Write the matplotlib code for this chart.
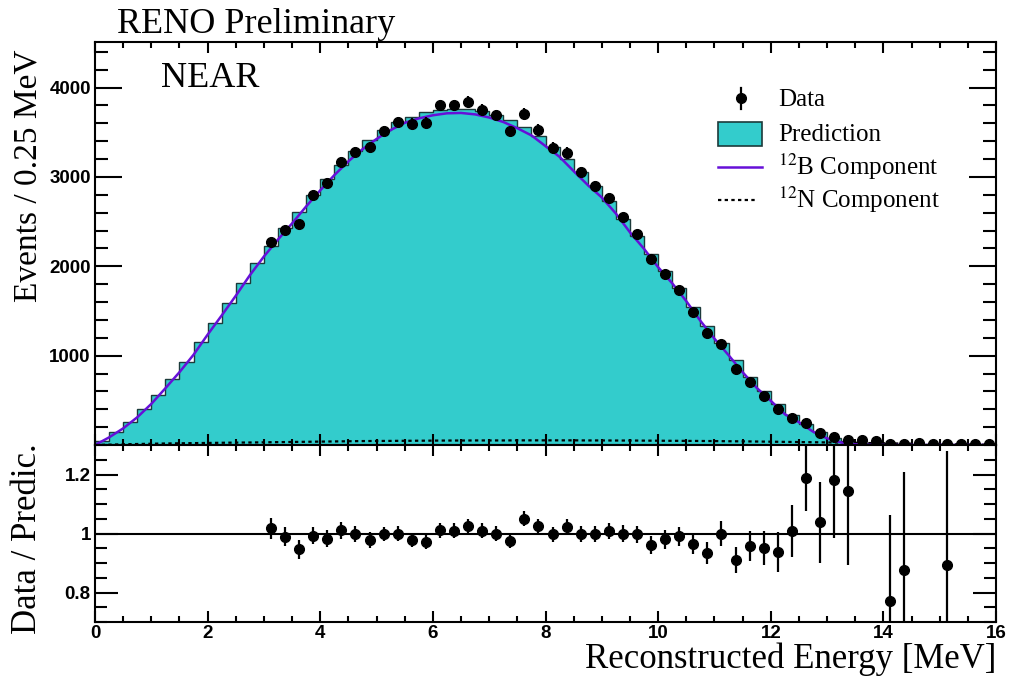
import numpy as np
import matplotlib
matplotlib.use("Agg")
import matplotlib.pyplot as plt
from matplotlib.patches import Rectangle
from matplotlib.ticker import MultipleLocator

plt.rcParams['mathtext.fontset'] = 'stix'

# ---------------- data ----------------
bin_width = 0.25
n_bins = 64
first_data_bin = 12

# Prediction histogram (events per 0.25 MeV bin), bins 0..63
prediction = [
    42, 141, 255, 398, 561, 743, 930, 1152, 1364, 1586,
    1818, 2039, 2231, 2428, 2610, 2797, 2974, 3139, 3286, 3413,
    3521, 3612, 3676, 3722, 3751, 3765, 3759, 3734, 3692, 3632,
    3557, 3457, 3337, 3201, 3051, 2895, 2728, 2534, 2339, 2141,
    1947, 1758, 1548, 1336, 1140, 950, 766, 604, 454, 332,
    230, 140, 76, 41, 26, 19, 16, 14, 11, 9,
    7, 5, 3, 1]

# 12B component curve, sampled at bin edges 0, 0.25, ..., 16 MeV
b12_curve = [
    0, 85, 186, 310, 460, 635, 815, 1010, 1235, 1450,
    1670, 1900, 2110, 2300, 2480, 2670, 2850, 3020, 3175, 3310,
    3425, 3525, 3605, 3655, 3690, 3712, 3716, 3700, 3665, 3615,
    3545, 3465, 3345, 3225, 3065, 2910, 2770, 2590, 2380, 2195,
    1990, 1810, 1610, 1390, 1190, 1006, 815, 640, 495, 345,
    255, 150, 74, 28, 8, 2, 0, 0, 0, 0,
    0, 0, 0, 0, 0]

# 12N component curve, sampled at bin edges 0, 0.25, ..., 16 MeV
n12_curve = [
    0, 4, 8, 11, 14, 17, 19, 21, 23, 25,
    27, 28, 30, 32, 34, 36, 38, 40, 42, 44,
    45, 46, 47, 48, 49, 50, 50, 51, 51, 51,
    52, 52, 52, 52, 52, 51, 51, 50, 50, 49,
    48, 47, 46, 45, 44, 42, 41, 39, 37, 35,
    33, 31, 29, 27, 25, 22, 20, 17, 15, 12,
    10, 8, 6, 4, 2]

# Data counts, bins 12..63
data_counts = [
    2273, 2404, 2471, 2795, 2929, 3172, 3277, 3334, 3511, 3614,
    3596, 3608, 3802, 3802, 3839, 3754, 3690, 3515, 3709, 3530,
    3329, 3273, 3056, 2896, 2765, 2546, 2359, 2079, 1919, 1733,
    1490, 1248, 1125, 846, 700, 552, 398, 297, 241, 130,
    92, 55, 55, 50, 12, 12, 20, 15, 6, 12,
    8, 10]
data_errors = [
    48, 49, 50, 53, 54, 56, 57, 58, 59, 60,
    60, 60, 62, 62, 62, 61, 61, 59, 61, 59,
    58, 57, 55, 54, 53, 50, 49, 46, 44, 42,
    39, 35, 34, 29, 26, 23, 20, 17, 16, 11,
    10, 7, 7, 7, 3, 3, 4, 4, 2, 3,
    3, 3]

# Data / Prediction ratio (bins inside the displayed range)
ratio_bins = list(range(12, 54)) + [56, 57, 60]
ratio_values = [
    1.017, 0.989, 0.946, 0.993, 0.983, 1.011, 0.998, 0.978, 0.998, 1.000,
    0.978, 0.971, 1.011, 1.009, 1.026, 1.009, 1.000, 0.975, 1.050, 1.024,
    0.997, 1.022, 0.997, 0.997, 1.009, 1.000, 0.997, 0.962, 0.980, 0.990,
    0.966, 0.935, 1.000, 0.910, 0.958, 0.950, 0.938, 1.008, 1.187, 1.038,
    1.183, 1.144, 0.770, 0.877, 0.894]
ratio_errors = [
    0.035, 0.033, 0.033, 0.030, 0.030, 0.028, 0.026, 0.026, 0.025, 0.025,
    0.025, 0.025, 0.025, 0.025, 0.024, 0.025, 0.025, 0.025, 0.026, 0.026,
    0.026, 0.026, 0.027, 0.027, 0.028, 0.029, 0.030, 0.031, 0.033, 0.033,
    0.034, 0.037, 0.042, 0.043, 0.052, 0.057, 0.067, 0.087, 0.110, 0.137,
    0.197, 0.250, 0.294, 0.332, 0.387]

# ---------------- styling ----------------
CYAN = '#33cccc'
PURPLE = '#6610d8'
SERIF = ['Liberation Serif', 'DejaVu Serif']
SANS = ['Liberation Sans', 'DejaVu Sans']

W, H = 1013, 686
fig = plt.figure(figsize=(W / 100, H / 100), dpi=100)


def px_rect(l, t, r, b):
    return [l / W, 1 - b / H, (r - l) / W, (b - t) / H]


def fpt(x, y):
    return (x / W, 1 - y / H)


ax = fig.add_axes(px_rect(95, 42, 996, 445))
axr = fig.add_axes(px_rect(95, 445, 996, 622), sharex=ax)

edges = np.arange(n_bins + 1) * bin_width
centers = edges[:-1] + bin_width / 2

# ---- upper panel ----
ax.stairs(prediction, edges, fill=True, facecolor=CYAN, edgecolor='none', zorder=1)
ax.stairs(prediction, edges, color='#1c3a3a', lw=1.0, zorder=1.2)
ax.plot(edges, n12_curve, color='black', lw=1.6, ls=(0, (1.5, 1.5)), zorder=2)
ax.plot(edges, b12_curve, color=PURPLE, lw=1.8, zorder=2.2)
ax.errorbar(centers[first_data_bin:], data_counts, yerr=data_errors, fmt='o',
            color='black', ms=7, elinewidth=1.6, capsize=0, zorder=3)

ax.set_xlim(0, 16)
ax.set_ylim(0, 4510)
ax.set_yticks([1000, 2000, 3000, 4000])
ax.yaxis.set_minor_locator(MultipleLocator(200))
ax.xaxis.set_major_locator(MultipleLocator(2))
ax.xaxis.set_minor_locator(MultipleLocator(0.5))
ax.tick_params(which='both', direction='in', top=True, right=True,
               labelbottom=False, width=1.5)
ax.tick_params(axis='y', which='major', length=19.5, pad=3)
ax.tick_params(axis='y', which='minor', length=9.5)
ax.tick_params(axis='x', which='major', length=8)
ax.tick_params(axis='x', which='minor', length=4.5)

# ---- ratio panel ----
axr.axhline(1.0, color='black', lw=1.5, zorder=1)
rx = [centers[b] for b in ratio_bins]
axr.errorbar(rx, ratio_values, yerr=ratio_errors, fmt='o', color='black',
             ms=7, elinewidth=1.6, capsize=0, zorder=3)
axr.set_ylim(0.7, 1.3)
axr.set_yticks([0.8, 1.0, 1.2], ['0.8', '1', '1.2'])
axr.yaxis.set_minor_locator(MultipleLocator(0.05))
axr.set_xticks(np.arange(0, 17, 2), [str(v) for v in range(0, 17, 2)])
axr.xaxis.set_minor_locator(MultipleLocator(0.5))
axr.tick_params(which='both', direction='in', top=True, right=True, width=1.5)
axr.tick_params(axis='y', which='major', length=16.5, pad=3)
axr.tick_params(axis='y', which='minor', length=8.5)
axr.tick_params(axis='x', which='major', length=8, pad=2.5)
axr.tick_params(axis='x', which='minor', length=4.5)

for a in (ax, axr):
    for s in a.spines.values():
        s.set_linewidth(1.5)
    for lab in a.get_xticklabels() + a.get_yticklabels():
        lab.set_fontfamily(SANS)
        lab.set_fontweight('bold')
        lab.set_fontsize(13.5)

# ---- texts ----
fig.text(*fpt(117, 33), 'RENO Preliminary', family=SERIF, size=26,
         ha='left', va='baseline')
fig.text(*fpt(161, 87), 'NEAR', family=SERIF, size=26, ha='left', va='baseline')
fig.text(*fpt(28, 50), 'Events / 0.25 MeV', family=SERIF, size=24,
         rotation=90, ha='center', va='top')
fig.text(*fpt(27, 443), 'Data / Predic.', family=SERIF, size=25,
         rotation=90, ha='center', va='top')
fig.text(*fpt(996, 668), 'Reconstructed Energy [MeV]', family=SERIF, size=25,
         ha='right', va='baseline')

# ---- legend (manual) ----
tf = fig.transFigure
mx, my = fpt(740.7, 98.3)
fig.add_artist(plt.Line2D([mx, mx], [fpt(0, 88)[1], fpt(0, 109)[1]],
                          color='black', lw=1.6, transform=tf))
fig.add_artist(plt.Line2D([mx], [my], marker='o', ms=7, color='black',
                          transform=tf))
r0 = fpt(718, 146)
r1 = fpt(762, 121.7)
fig.add_artist(Rectangle(r0, r1[0] - r0[0], r1[1] - r0[1], facecolor=CYAN,
                         edgecolor='#1c3a3a', lw=1.2, transform=tf))
fig.add_artist(plt.Line2D([fpt(718, 0)[0], fpt(762, 0)[0]],
                          [fpt(0, 166.7)[1]] * 2, color=PURPLE, lw=1.8,
                          transform=tf))
fig.add_artist(plt.Line2D([fpt(718, 0)[0], fpt(758, 0)[0]],
                          [fpt(0, 200)[1]] * 2, color='black', lw=1.6,
                          ls=(0, (1.5, 1.5)), transform=tf))
tx = 778
fig.text(*fpt(tx, 100), 'Data', family=SERIF, size=18, ha='left', va='center')
fig.text(*fpt(tx, 135), 'Prediction', family=SERIF, size=18, ha='left', va='center')
fig.text(*fpt(tx, 166.7), r'$^{12}$B Component', family=SERIF, size=18,
         ha='left', va='center')
fig.text(*fpt(tx, 200), r'$^{12}$N Component', family=SERIF, size=18,
         ha='left', va='center')

fig.savefig('out.png', dpi=100)
